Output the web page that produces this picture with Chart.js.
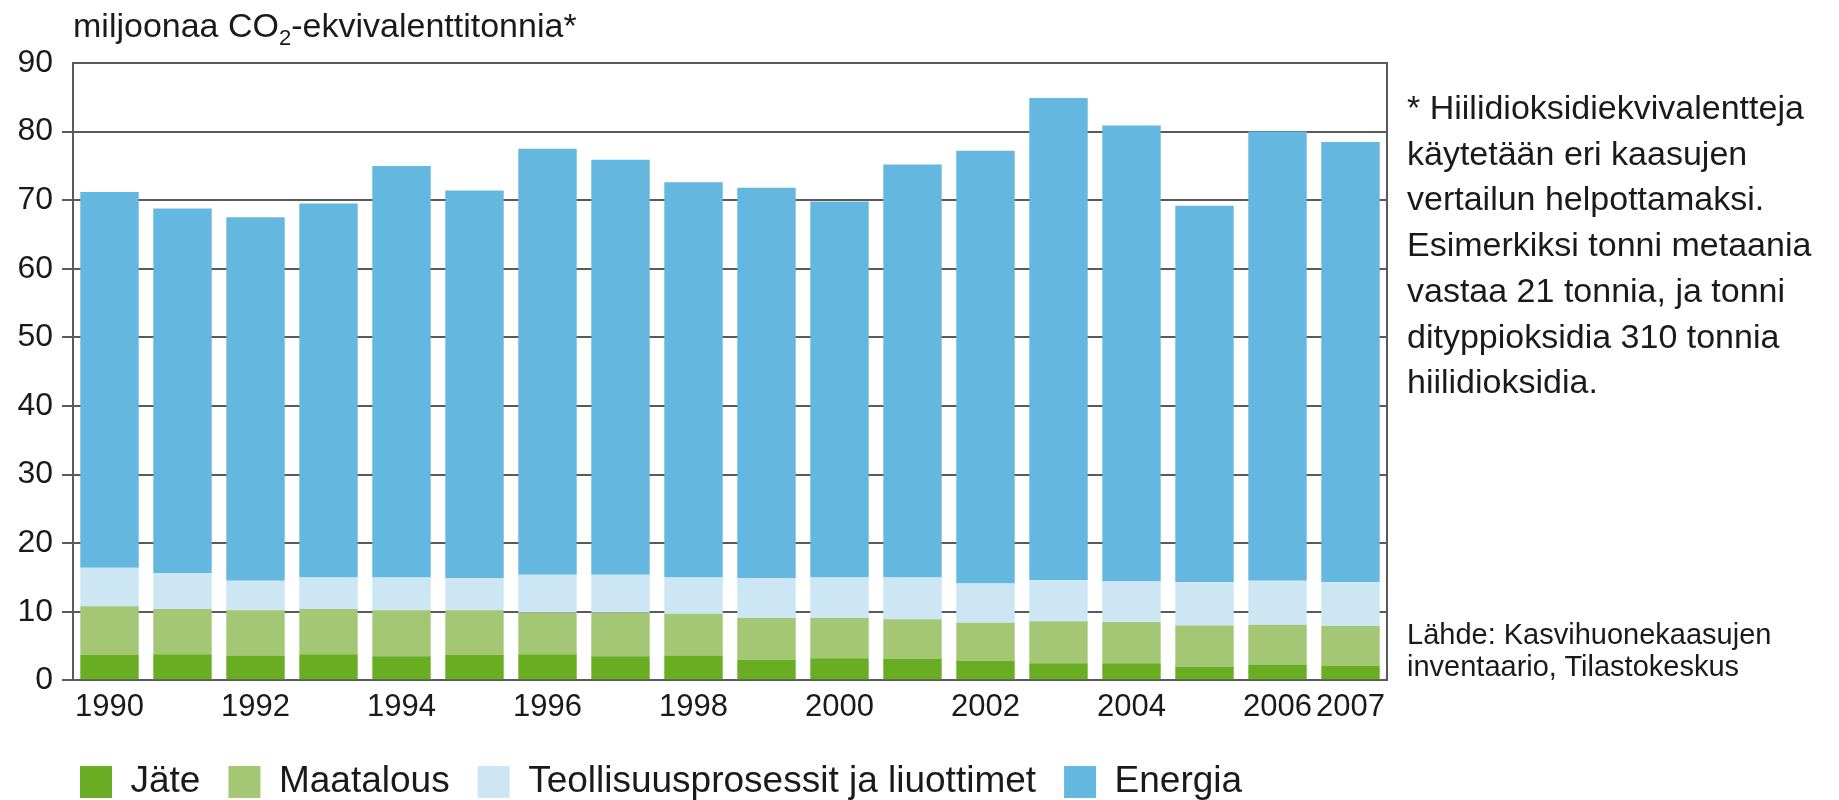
<!DOCTYPE html>
<html>
<head>
<meta charset="utf-8">
<script src="https://cdn.jsdelivr.net/npm/chart.js@4"></script>
<style>
  html, body { margin: 0; padding: 0; background: #fff; }
  #wrap { position: relative; width: 1839px; height: 800px; }
  #title { position: absolute; left: 73px; top: 6px; font: 34px "Liberation Sans", Arial, sans-serif; color: #1a1a1a; white-space: nowrap; }
  #title sub { font-size: 22px; vertical-align: -8px; line-height: 0; }
  #note { position: absolute; left: 1407px; top: 85px; font: 34px/45.7px "Liberation Sans", Arial, sans-serif; color: #1a1a1a; white-space: nowrap; }
  #source { position: absolute; left: 1407px; top: 618px; font: 29px/32px "Liberation Sans", Arial, sans-serif; color: #1a1a1a; white-space: nowrap; }
</style>
</head>
<body>
<div id="wrap">
  <canvas id="chart" width="1839" height="800"></canvas>
  <div id="title">miljoonaa CO<sub>2</sub>-ekvivalenttitonnia*</div>
  <div id="note">* Hiilidioksidiekvivalentteja<br>käytetään eri kaasujen<br>vertailun helpottamaksi.<br>Esimerkiksi tonni metaania<br>vastaa 21 tonnia, ja tonni<br>dityppioksidia 310 tonnia<br>hiilidioksidia.</div>
  <div id="source">Lähde: Kasvihuonekaasujen<br>inventaario, Tilastokeskus</div>
</div>
<script>
// Vuodet ja päästöt sektoreittain (milj. t CO2-ekv.)
const years = [1990, 1991, 1992, 1993, 1994, 1995, 1996, 1997, 1998, 1999, 2000, 2001, 2002, 2003, 2004, 2005, 2006, 2007];
const jate = [3.7, 3.8, 3.6, 3.8, 3.5, 3.7, 3.8, 3.5, 3.6, 3.0, 3.2, 3.1, 2.8, 2.5, 2.5, 2.0, 2.3, 2.1];
const maatalous = [7.1, 6.6, 6.6, 6.6, 6.7, 6.5, 6.1, 6.4, 6.1, 6.1, 5.9, 5.8, 5.6, 6.1, 6.0, 6.0, 5.8, 5.8];
const teollisuus = [5.6, 5.2, 4.3, 4.6, 4.8, 4.7, 5.5, 5.5, 5.3, 5.8, 5.9, 6.1, 5.7, 6.0, 5.9, 6.3, 6.4, 6.4];
const energia = [54.8, 53.2, 53.0, 54.5, 60.0, 56.5, 62.1, 60.5, 57.6, 56.9, 54.8, 60.2, 63.1, 70.3, 66.5, 54.9, 65.5, 64.2];
const shownYears = [1990, 1992, 1994, 1996, 1998, 2000, 2002, 2004, 2006, 2007];

const gridColor = '#5a5a5a';
const font = '"Liberation Sans", Arial, sans-serif';

// kehys oikealle + selite oikeaan kohtaan
const frame = {
  id: 'frame',
  afterLayout(chart) {
    if (chart.legend) {
      chart.legend.left += 52;
      chart.legend.right += 52;
    }
  },
  afterDatasetsDraw(chart) {
    const a = chart.chartArea;
    const ctx = chart.ctx;
    ctx.save();
    ctx.strokeStyle = gridColor;
    ctx.lineWidth = 2;
    ctx.beginPath();
    ctx.moveTo(a.left, a.top);
    ctx.lineTo(a.right, a.top);
    ctx.lineTo(a.right, a.bottom);
    ctx.stroke();
    ctx.restore();
  }
};

const ctx = document.getElementById('chart').getContext('2d');
new Chart(ctx, {
  type: 'bar',
  data: {
    labels: years,
    datasets: [
      { label: 'Jäte', data: jate, backgroundColor: '#68ad22' },
      { label: 'Maatalous', data: maatalous, backgroundColor: '#a3c775' },
      { label: 'Teollisuusprosessit ja liuottimet', data: teollisuus, backgroundColor: '#cce6f4' },
      { label: 'Energia', data: energia, backgroundColor: '#64b8df' }
    ]
  },
  options: {
    responsive: false,
    animation: false,
    layout: { padding: { left: 0, right: 452, top: 63, bottom: -10.5 } },
    datasets: { bar: { barPercentage: 0.8, categoryPercentage: 1.0 } },
    scales: {
      x: {
        stacked: true,
        grid: { display: false, drawTicks: false },
        border: { display: true, color: gridColor, width: 2 },
        ticks: {
          autoSkip: false,
          maxRotation: 0,
          padding: 9,
          color: '#1a1a1a',
          font: { family: font, size: 31 },
          callback: function(value) {
            const y = years[value];
            return shownYears.includes(y) ? String(y) : '';
          }
        }
      },
      y: {
        stacked: true,
        min: 0,
        max: 90,
        afterFit: function(scale) { scale.width = 73; },
        grid: {
          color: gridColor,
          lineWidth: 2,
          tickLength: 11,
          tickColor: (c) => (c.tick && c.tick.value === 90) ? 'rgba(0,0,0,0)' : gridColor
        },
        border: { display: true, color: gridColor, width: 2 },
        ticks: {
          stepSize: 10,
          padding: 9,
          color: '#1a1a1a',
          font: { family: font, size: 32 }
        }
      }
    },
    plugins: {
      legend: {
        position: 'bottom',
        align: 'start',
        labels: {
          boxWidth: 32,
          boxHeight: 32,
          padding: 28,
          color: '#1a1a1a',
          font: { family: font, size: 37 }
        }
      },
      tooltip: { enabled: false }
    }
  },
  plugins: [frame]
});
</script>
</body>
</html>
